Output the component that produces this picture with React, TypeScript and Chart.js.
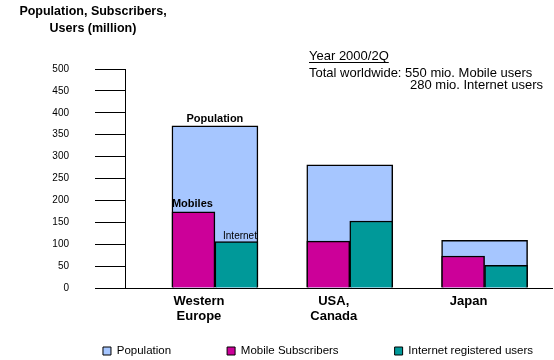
import React, { useEffect, useRef } from "react";
import { Chart, registerables } from "chart.js";

Chart.register(...registerables);

// ---- data ----
const categories: string[][] = [["Western", "Europe"], ["USA,", "Canada"], ["Japan"]];
const population = [370, 281, 109];
const mobileSubscribers = [174, 107, 73];
const internetUsers = [106, 153, 52];
const seriesNames = ["Population", "Mobile Subscribers", "Internet registered users"];
const barCallouts = ["Population", "Mobiles", "Internet"];
const titleLines = ["Population, Subscribers,", "Users (million)"];
const noteLines = ["Year 2000/2Q", "Total worldwide: 550 mio. Mobile users", "280 mio. Internet users"];
const yMin = 0;
const yMax = 500;
const yStep = 50;

const FONT = '"Liberation Sans", Arial, Helvetica, sans-serif';
const COLORS = { population: "#A6C6FF", mobile: "#CC0099", internet: "#009999" };

// category window: first category centre sits 0.667 category widths from the y axis
const X_START = -0.667;
const X_RANGE = 3.167;
const fixCategoryWindow = (s: any) => {
  s._startValue = X_START;
  s._valueRange = X_RANGE;
};

const LEGEND_PAD = 56;
const LEGEND_FONT = 11.5;

const textPlugin = {
  id: "texts",
  afterLayout(chart: any) {
    const lg = chart.legend;
    if (lg) {
      lg.left += 42;
      lg.right += 42;
      lg.top = 351 - LEGEND_FONT / 2 - LEGEND_PAD;
      lg.bottom = chart.height;
      lg.height = lg.bottom - lg.top;
      lg.width = lg.right - lg.left;
    }
  },
  afterDraw(chart: any) {
    const ctx = chart.ctx as CanvasRenderingContext2D;
    ctx.save();
    ctx.fillStyle = "#000";
    ctx.textBaseline = "alphabetic";

    ctx.font = `bold 12.5px ${FONT}`;
    ctx.textAlign = "center";
    ctx.fillText(titleLines[0], 93, 15);
    ctx.fillText(titleLines[1], 93, 32);

    ctx.font = `13px ${FONT}`;
    ctx.textAlign = "left";
    ctx.fillText(noteLines[0], 309, 60);
    const w = ctx.measureText(noteLines[0]).width;
    ctx.fillRect(309, 62, w, 1);
    ctx.fillText(noteLines[1], 309, 77);
    ctx.fillText(noteLines[2], 410, 89);

    const p = chart.getDatasetMeta(0).data[0];
    const m = chart.getDatasetMeta(1).data[0];
    const n = chart.getDatasetMeta(2).data[0];
    if (p && m && n) {
      ctx.font = `bold 11px ${FONT}`;
      ctx.textAlign = "center";
      ctx.fillText(barCallouts[0], p.x, p.y - 4);
      ctx.textAlign = "left";
      ctx.fillText(barCallouts[1], m.x - m.width / 2, m.y - 5);
      ctx.font = `10px ${FONT}`;
      ctx.textAlign = "right";
      ctx.fillText(barCallouts[2], n.x + n.width / 2 - 1, n.y - 3);
    }
    ctx.restore();
  },
};

export default function App() {
  const ref = useRef<HTMLCanvasElement | null>(null);

  useEffect(() => {
    if (!ref.current) return;
    const baseLegend = (Chart as any).defaults.plugins.legend.labels.generateLabels;
    const chart = new Chart(ref.current, {
      type: "bar",
      data: {
        labels: categories as any,
        datasets: [
          {
            label: seriesNames[0],
            data: population,
            xAxisID: "x",
            grouped: false,
            backgroundColor: COLORS.population,
            borderColor: "#000",
            borderWidth: 1.5,
            barThickness: 86,
            order: 1,
          },
          {
            label: seriesNames[1],
            data: mobileSubscribers,
            xAxisID: "x2",
            backgroundColor: COLORS.mobile,
            borderColor: "#000",
            borderWidth: 1.5,
            barThickness: 43,
            order: 0,
          },
          {
            label: seriesNames[2],
            data: internetUsers,
            xAxisID: "x2",
            backgroundColor: COLORS.internet,
            borderColor: "#000",
            borderWidth: 1.5,
            barThickness: 43,
            order: 0,
          },
        ] as any,
      },
      options: {
        responsive: false,
        animation: false,
        events: [],
        layout: { padding: { top: 69, left: 0, right: 2, bottom: 0 } },
        scales: {
          x: {
            type: "category",
            position: "bottom",
            offset: true,
            grid: { display: false, drawTicks: false },
            border: { display: true, color: "#000", width: 1 },
            ticks: {
              autoSkip: false,
              maxRotation: 0,
              padding: 6,
              labelOffset: -16,
              color: "#000",
              font: { family: FONT, size: 13, weight: "bold", lineHeight: "15px" },
            },
            afterBuildTicks: fixCategoryWindow,
            afterFit: (s: any) => {
              s.height = 52;
            },
          },
          x2: {
            type: "category",
            axis: "x",
            position: "bottom",
            offset: true,
            display: false,
            afterBuildTicks: fixCategoryWindow,
          },
          y: {
            min: yMin,
            max: yMax,
            ticks: { stepSize: yStep, padding: 26, color: "#000", font: { family: FONT, size: 10 } },
            grid: { drawOnChartArea: false, drawTicks: true, tickLength: 30, color: "#000", lineWidth: 1 },
            border: { display: true, color: "#000", width: 1 },
            afterFit: (s: any) => {
              s.width = 125;
            },
          },
        } as any,
        plugins: {
          title: { display: false },
          tooltip: { enabled: false },
          legend: {
            position: "bottom",
            maxHeight: 20,
            labels: {
              boxWidth: 8,
              boxHeight: 8,
              padding: LEGEND_PAD,
              color: "#000",
              font: { family: FONT, size: LEGEND_FONT },
              sort: (a: any, b: any) => a.datasetIndex - b.datasetIndex,
              generateLabels: (c: any) =>
                baseLegend(c).map((l: any) => ({ ...l, lineWidth: 1, strokeStyle: "#000" })),
            },
          },
        },
      },
      plugins: [textPlugin],
    } as any);
    return () => chart.destroy();
  }, []);

  return (
    <div style={{ position: "fixed", left: 0, top: 0, width: 554, height: 360, background: "#fff" }}>
      <canvas ref={ref} width={554} height={360} style={{ width: 554, height: 360, display: "block" }} />
    </div>
  );
}
